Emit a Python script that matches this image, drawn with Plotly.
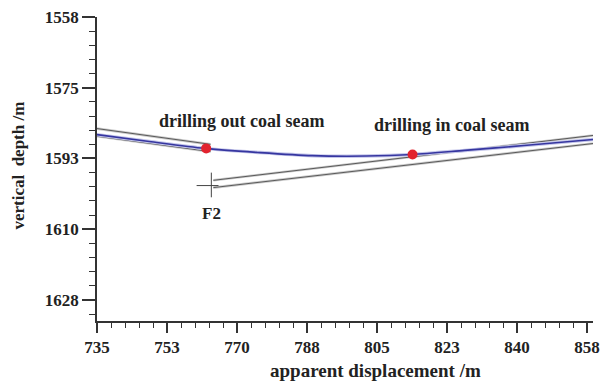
import numpy as np
import plotly.graph_objects as go

# Axis tick labels (evenly spaced ticks, labels rounded to whole metres)
x_tick_labels = ["735", "753", "770", "788", "805", "823", "840", "858"]
y_tick_labels = ["1558", "1575", "1593", "1610", "1628"]
x_ticks = np.linspace(735, 858, len(x_tick_labels))
y_ticks = np.linspace(1558, 1628, len(y_tick_labels))

# Borehole trajectory (apparent displacement, vertical depth)
traj_x = [735.0, 748.1, 762.0, 775.3, 789.0, 802.6, 814.2, 827.3, 842.2, 859.5]
traj_y = [1587.1, 1588.8, 1590.5, 1591.5, 1592.3, 1592.4, 1592.0, 1591.0, 1589.8, 1588.3]

# Coal seam boundaries on the hanging-wall side of F2
seam_left_x = [735.0, 763.5]
seam_left_roof = [1585.6, 1589.5]
seam_left_floor = [1587.5, 1591.3]

# Coal seam boundaries on the footwall side of F2
seam_right_x = [764.2, 859.5]
seam_right_roof = [1598.4, 1587.3]
seam_right_floor = [1600.2, 1589.3]

# Fault F2 marker
fault_v_x = [763.7, 763.7]
fault_v_y = [1596.5, 1602.6]
fault_h_x = [760.0, 765.5]
fault_h_y = [1599.7, 1599.7]

# Seam exit / entry points
point_x = [762.4, 814.2]
point_y = [1590.5, 1592.0]
point_labels = ["drilling out coal seam", "drilling in coal seam"]

serif = "Liberation Serif"
axis_col = "#333333"
seam_col = "#5a5a5a"

fig = go.Figure()

def seam_line(xs, ys):
    fig.add_trace(go.Scatter(x=xs, y=ys, mode="lines",
                             line=dict(color="#cccccc", width=2.6),
                             hoverinfo="skip", showlegend=False))
    fig.add_trace(go.Scatter(x=xs, y=ys, mode="lines",
                             line=dict(color=seam_col, width=1),
                             hoverinfo="skip", showlegend=False))

seam_line(seam_left_x, seam_left_roof)
seam_line(seam_left_x, seam_left_floor)
seam_line(seam_right_x, seam_right_roof)
seam_line(seam_right_x, seam_right_floor)

# fault marker
for fx, fy in ((fault_v_x, fault_v_y), (fault_h_x, fault_h_y)):
    fig.add_trace(go.Scatter(x=fx, y=fy, mode="lines",
                             line=dict(color="#444444", width=1),
                             hoverinfo="skip", showlegend=False))

# trajectory with a soft halo
fig.add_trace(go.Scatter(x=traj_x, y=traj_y, mode="lines",
                         line=dict(color="#c4c6ea", width=3.5, shape="spline", smoothing=0.8),
                         hoverinfo="skip", showlegend=False))
fig.add_trace(go.Scatter(x=traj_x, y=traj_y, mode="lines",
                         line=dict(color="#3636a0", width=1.6, shape="spline", smoothing=0.8),
                         showlegend=False))

fig.add_trace(go.Scatter(x=point_x, y=point_y, mode="markers",
                         marker=dict(color="#e2232e", size=10),
                         showlegend=False))

text_font = dict(family=serif, size=18, color="#222222", weight="bold")

fig.add_annotation(x=point_x[0] + 9.0, y=1583.8, text=point_labels[0],
                   showarrow=False, font=text_font)
fig.add_annotation(x=point_x[1] + 9.8, y=1584.8, text=point_labels[1],
                   showarrow=False, font=text_font)
fig.add_annotation(x=763.7, y=1606.5, text="F2", showarrow=False,
                   font=dict(family=serif, size=17, color="#222222", weight="bold"))

# axis titles
fig.add_annotation(x=0.562, y=-0.164, xref="paper", yref="paper",
                   xanchor="center", yanchor="middle",
                   text="apparent displacement /m", showarrow=False,
                   font=dict(family=serif, size=19, color="#222222", weight="bold"))
fig.add_annotation(x=-0.158, y=0.51, xref="paper", yref="paper",
                   xanchor="center", yanchor="middle",
                   text="vertical\u00a0\u00a0depth /m", textangle=-90, showarrow=False,
                   font=dict(family=serif, size=17, color="#222222", weight="bold"))

x_step = (x_ticks[1] - x_ticks[0]) / 5
y_step = (y_ticks[1] - y_ticks[0]) / 5
x_minor = [735 + i * x_step for i in range(0, 37)]
y_minor = [1558 + i * y_step for i in range(0, 22)]

tick_font = dict(family=serif, size=17, color="#222222", weight="bold")

fig.update_xaxes(range=[735, 859.5], tickmode="array", tickvals=x_ticks,
                 ticktext=x_tick_labels, ticks="outside", ticklen=10, tickwidth=1.5,
                 tickcolor=axis_col, showline=True, linecolor=axis_col, linewidth=1.5,
                 showgrid=False, zeroline=False, tickfont=tick_font,
                 minor=dict(tickmode="array", tickvals=x_minor, ticks="outside",
                            ticklen=5, tickwidth=1, tickcolor=axis_col, showgrid=False))
fig.update_yaxes(range=[1633.2, 1558], tickmode="array", tickvals=y_ticks,
                 ticktext=y_tick_labels, ticks="outside", ticklen=13, tickwidth=1.5,
                 tickcolor=axis_col, showline=True, linecolor=axis_col, linewidth=1.5,
                 showgrid=False, zeroline=False, tickfont=tick_font,
                 minor=dict(tickmode="array", tickvals=y_minor, ticks="outside",
                            ticklen=6, tickwidth=1, tickcolor=axis_col, showgrid=False))

fig.update_layout(width=608, height=391,
                  margin=dict(l=97, r=8, t=16, b=70),
                  plot_bgcolor="white", paper_bgcolor="white",
                  showlegend=False)

fig.write_html("out.html")
